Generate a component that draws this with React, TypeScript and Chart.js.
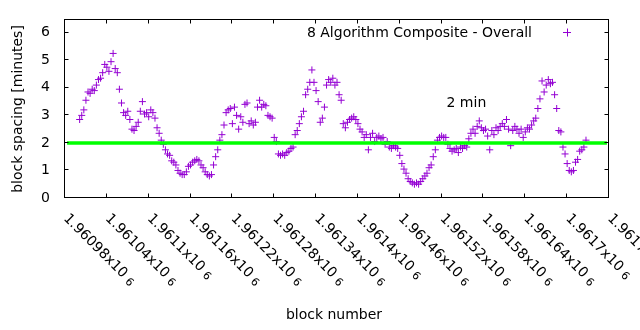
import { useEffect, useRef } from "react";
import { Chart, registerables } from "chart.js";

Chart.register(...registerables);

// ---- data ----
const firstBlock = 1961001;
const blockStep = 3;
const spacingMinutes = [
  2.85, 3.0, 3.2, 3.55, 3.85, 3.8, 3.95, 3.9, 4.1, 4.3,
  4.35, 4.55, 4.85, 4.75, 4.6, 4.95, 5.25, 4.7, 4.55, 3.95,
  3.45, 3.1, 3.0, 3.15, 2.85, 2.5, 2.45, 2.6, 2.75, 3.15,
  3.5, 3.05, 3.1, 2.95, 3.2, 3.1, 2.9, 2.55, 2.35, 2.1,
  1.95, 1.75, 1.6, 1.55, 1.35, 1.3, 1.2, 1.0, 0.9, 0.85,
  0.85, 0.95, 1.15, 1.2, 1.3, 1.35, 1.4, 1.35, 1.2, 1.1,
  0.95, 0.85, 0.8, 0.85, 1.2, 1.5, 1.75, 2.1, 2.3, 2.65,
  3.1, 3.2, 3.25, 2.7, 3.3, 3.0, 2.5, 2.95, 2.75, 3.4,
  3.45, 2.7, 2.8, 2.65, 2.75, 3.3, 3.55, 3.3, 3.4, 3.35,
  3.0, 2.95, 2.9, 2.2, 2.05, 1.6, 1.55, 1.6, 1.55, 1.65,
  1.7, 1.8, 1.85, 2.3, 2.45, 2.7, 2.95, 3.15, 3.75, 3.95,
  4.2, 4.65, 4.2, 3.9, 3.5, 2.75, 2.9, 3.3, 4.1, 4.3,
  4.2, 4.35, 4.1, 4.2, 3.75, 3.55, 2.7, 2.55, 2.75, 2.85,
  2.9, 2.95, 2.85, 2.7, 2.5, 2.4, 2.2, 2.3, 1.75, 2.2,
  2.35, 2.05, 2.2, 2.25, 2.15, 2.2, 1.95, 2.05, 1.85, 1.8,
  1.9, 1.85, 1.8, 1.55, 1.25, 1.05, 0.9, 0.7, 0.6, 0.55,
  0.5, 0.55, 0.5, 0.6, 0.7, 0.8, 0.9, 1.1, 1.2, 1.5,
  1.75, 2.1, 2.2, 2.25, 2.2, 2.2, 1.95, 1.8, 1.7, 1.75,
  1.8, 1.65, 1.85, 1.8, 1.9, 1.85, 2.15, 2.35, 2.5, 2.35,
  2.6, 2.8, 2.55, 2.45, 2.5, 2.25, 1.75, 2.45, 2.3, 2.55,
  2.45, 2.6, 2.7, 2.6, 2.85, 2.5, 1.9, 2.45, 2.6, 2.5,
  2.35, 2.5, 2.2, 2.4, 2.55, 2.5, 2.65, 2.8, 2.9, 3.25,
  3.6, 4.25, 3.85, 4.1, 4.3, 4.15, 4.2, 3.75, 3.25, 2.45,
  2.4, 1.85, 1.6, 1.25, 1.0, 0.95, 1.0, 1.3, 1.4, 1.7,
  1.75, 1.85, 2.1,
];

const xMin = 1960980;
const xMax = 1961760;
const xTickValues = [
  1960980, 1961040, 1961100, 1961160, 1961220, 1961280, 1961340,
  1961400, 1961460, 1961520, 1961580, 1961640, 1961700, 1961760,
];
const xTickMantissas = [
  "1.96098", "1.96104", "1.9611", "1.96116", "1.96122", "1.96128", "1.96134",
  "1.9614", "1.96146", "1.96152", "1.96158", "1.96164", "1.9617", "1.96176",
];
const xTickExponent = "6";
const yMin = 0;
const yMax = 6.5;
const yTickValues = [0, 1, 2, 3, 4, 5, 6];

const refLineX = [1960983, 1961757];
const refLineY = [2, 2];

const seriesLabel = "8 Algorithm Composite - Overall";
const refLabel = "2 min";
const xTitle = "block number";
const yTitle = "block spacing [minutes]";

const PURPLE = "#9400d3";
const GREEN = "#00ff00";
const FONT = '"DejaVu Sans", sans-serif';

const gnuplotFrame = {
  id: "gnuplotFrame",
  afterDraw(chart: any) {
    const { ctx, chartArea, scales } = chart;
    const { left, right, top, bottom } = chartArea;
    const xs = scales.x;
    const ys = scales.y;
    ctx.save();
    ctx.strokeStyle = "#000";
    ctx.lineWidth = 1;
    ctx.strokeRect(left - 0.5, top + 0.5, right - left, bottom - top - 1);

    const tl = 4;
    ctx.beginPath();
    xTickValues.forEach((v) => {
      const px = Math.round(xs.getPixelForValue(v)) - 0.5;
      ctx.moveTo(px, bottom - 0.5);
      ctx.lineTo(px, bottom - 0.5 - tl);
      ctx.moveTo(px, top + 0.5);
      ctx.lineTo(px, top + 0.5 + tl);
    });
    yTickValues.forEach((v) => {
      const py = Math.round(ys.getPixelForValue(v)) - 0.5;
      ctx.moveTo(left - 0.5, py);
      ctx.lineTo(left - 0.5 + tl, py);
      ctx.moveTo(right - 0.5, py);
      ctx.lineTo(right - 0.5 - tl, py);
    });
    ctx.stroke();

    ctx.fillStyle = "#000";
    ctx.font = `14px ${FONT}`;
    ctx.textAlign = "right";
    ctx.textBaseline = "middle";
    yTickValues.forEach((v) => {
      ctx.fillText(String(v), left - 15, ys.getPixelForValue(v));
    });

    xTickValues.forEach((v, i) => {
      const px = xs.getPixelForValue(v);
      ctx.save();
      ctx.translate(px - 2, bottom + 21);
      ctx.rotate(Math.PI / 4);
      ctx.textAlign = "left";
      ctx.textBaseline = "alphabetic";
      ctx.font = `14px ${FONT}`;
      const main = xTickMantissas[i] + "x10";
      ctx.fillText(main, 0, 0);
      const w = ctx.measureText(main).width;
      ctx.font = `11px ${FONT}`;
      ctx.fillText(xTickExponent, w + 4, 1);
      ctx.restore();
    });

    ctx.font = `14px ${FONT}`;
    ctx.textAlign = "center";
    ctx.textBaseline = "alphabetic";
    ctx.fillText(xTitle, 334, 319);

    ctx.save();
    ctx.translate(18, 109);
    ctx.rotate(-Math.PI / 2);
    ctx.textBaseline = "middle";
    ctx.textAlign = "center";
    ctx.fillText(yTitle, 0, 0);
    ctx.restore();

    ctx.textAlign = "right";
    ctx.textBaseline = "alphabetic";
    ctx.fillText(seriesLabel, 532, 36.5);
    ctx.strokeStyle = PURPLE;
    ctx.beginPath();
    ctx.moveTo(563, 32.5);
    ctx.lineTo(571, 32.5);
    ctx.moveTo(567.5, 28.5);
    ctx.lineTo(567.5, 36.5);
    ctx.stroke();

    ctx.textAlign = "left";
    ctx.fillText(refLabel, 446.5, 107);
    ctx.restore();
  },
};

export default function App() {
  const ref = useRef<HTMLCanvasElement | null>(null);
  useEffect(() => {
    if (!ref.current) return;
    const points = spacingMinutes.map((v, i) => ({ x: firstBlock + i * blockStep, y: v }));
    const line = refLineX.map((x, i) => ({ x, y: refLineY[i] }));
    const chart = new Chart(ref.current, {
      type: "scatter",
      data: {
        datasets: [
          {
            type: "line",
            label: refLabel,
            data: line,
            borderColor: GREEN,
            borderWidth: 3.5,
            pointRadius: 0,
            showLine: true,
            order: 0,
          } as any,
          {
            label: seriesLabel,
            data: points,
            pointStyle: "cross",
            pointRadius: 3.5,
            borderColor: PURPLE,
            backgroundColor: PURPLE,
            borderWidth: 1,
            order: 1,
          },
        ],
      },
      options: {
        responsive: false,
        animation: false,
        events: [],
        layout: { padding: { left: 65, right: 31, top: 19, bottom: 132 } },
        plugins: { legend: { display: false }, tooltip: { enabled: false } },
        scales: {
          x: { type: "linear", min: xMin, max: xMax, display: false },
          y: { type: "linear", min: yMin, max: yMax, display: false },
        },
      },
      plugins: [gnuplotFrame],
    });
    return () => chart.destroy();
  }, []);
  return (
    <div style={{ position: "absolute", left: 0, top: 0, width: 640, height: 330, background: "#fff" }}>
      <canvas ref={ref} width={640} height={330} style={{ width: 640, height: 330, display: "block" }} />
    </div>
  );
}
